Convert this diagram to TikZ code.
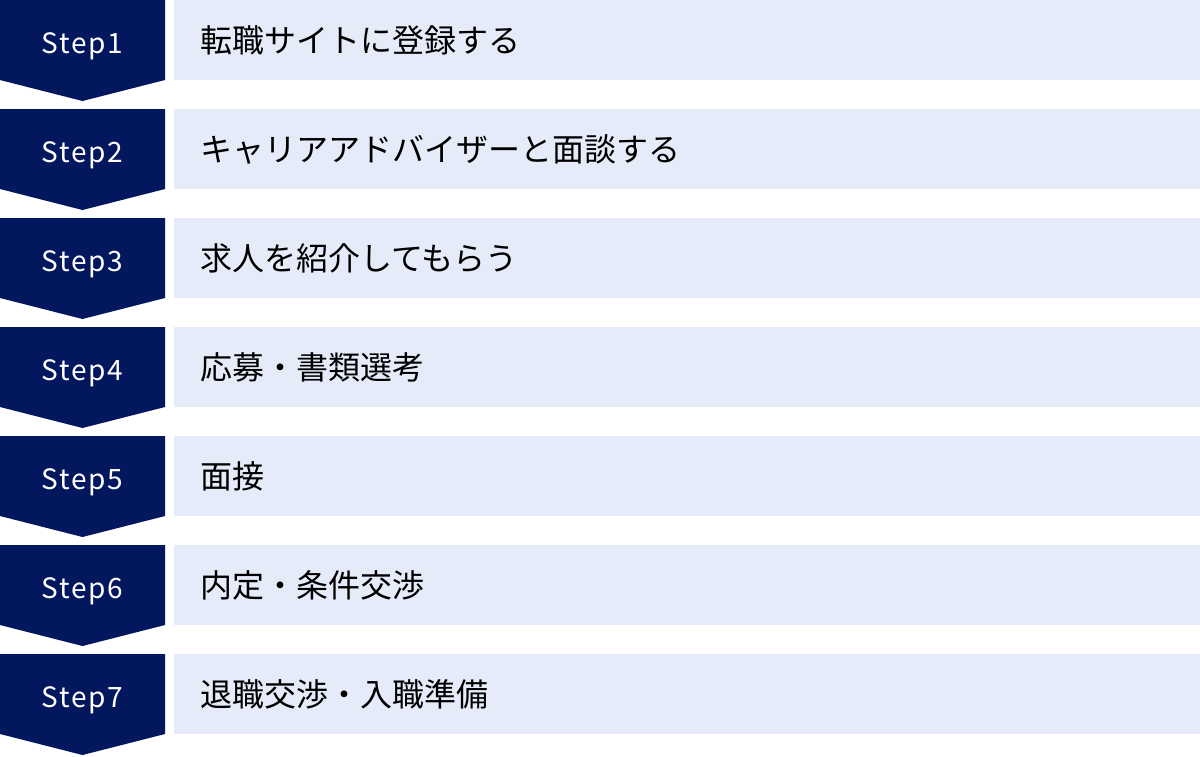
\documentclass[tikz,border=0pt]{standalone}
\usepackage{fontspec}
\setmainfont{Noto Sans CJK JP}
\definecolor{navy}{HTML}{03175F}
\definecolor{pale}{HTML}{E5EBF9}
\tikzset{
  stepshape/.style={fill=navy},
  stepname/.style={text=white,font=\fontsize{28}{32}\selectfont,anchor=base,inner sep=0pt},
  stepbar/.style={fill=pale},
  steptext/.style={text=black,font=\fontsize{32}{36}\selectfont,anchor=west,inner sep=0pt}
}
\begin{document}
\begin{tikzpicture}[x=1pt,y=-1pt]
  \useasboundingbox (0,0) rectangle (1200,756);
  % Draw the seven steps
  \foreach \i/\val in {1/転職サイトに登録する,2/キャリアアドバイザーと面談する,3/求人を紹介してもらう,4/応募・書類選考,5/面接,6/内定・条件交渉,7/退職交渉・入職準備}
  {
    \pgfmathsetmacro{\y}{(\i-1)*109}
    \fill[stepshape] (0,\y) -- (165,\y) -- (165,\y+80) -- (82.5,\y+101) -- (0,\y+80) -- cycle;
    \fill[stepbar] (174,\y) rectangle (1200,\y+80);
    \node[stepname] (step\i) at (82.5,\y+53.5) {\addfontfeature{LetterSpace=6}Step\i};
    \node[steptext] (label\i) at (200,\y+40) {\val};
  }
\end{tikzpicture}
\end{document}
